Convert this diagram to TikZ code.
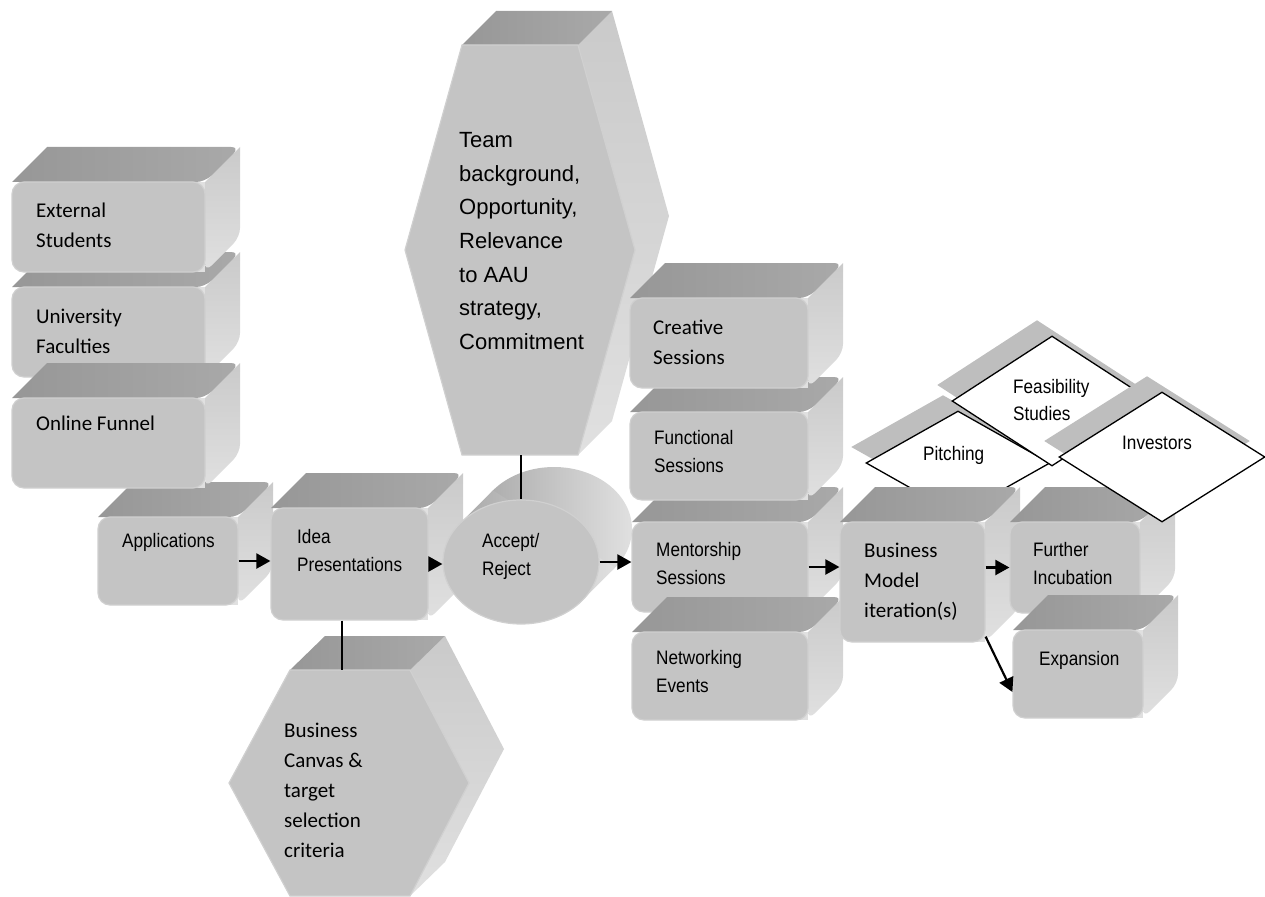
\documentclass[tikz,border=0pt]{standalone}
\usepackage{fontspec}
\setmainfont{Carlito}
\newfontfamily\arifont{Liberation Sans}[FakeStretch=0.88]
\newfontfamily\bigarifont{Liberation Sans}
\usetikzlibrary{arrows.meta,shapes.geometric,shadows}

\definecolor{frontc}{HTML}{C4C4C4}
\definecolor{edgec}{HTML}{D0D0D0}
\definecolor{topc}{HTML}{979797}
\definecolor{topl}{HTML}{A9A9A9}
\definecolor{sidec}{HTML}{E0E0E0}
\definecolor{sided}{HTML}{CACACA}
\definecolor{shadowc}{HTML}{BEBEBE}

\tikzset{
  frontbox/.style={draw=edgec, line width=1.2pt, fill=frontc, rounded corners=12pt, inner sep=0pt},
  topface/.style={left color=topc, right color=topl},
  sideface/.style={top color=sided, bottom color=sidec},
  cylside/.style={left color=topl, right color=sidec},
  calt/.style={font=\fontsize{21}{30}\selectfont, anchor=west, align=left, inner sep=0pt},
  arit/.style={font=\arifont\fontsize{19.5}{28}\selectfont, anchor=west, align=left, inner sep=0pt},
  bigt/.style={font=\bigarifont\fontsize{22}{33.7}\selectfont, anchor=west, align=left, inner sep=0pt},
  flow/.style={line width=2.2pt, -{Triangle[length=14pt,width=15pt]}},
  link/.style={line width=1.6pt},
  diam/.style={diamond, draw=black, line width=1.3pt, fill=white, inner sep=0pt,
    general shadow={fill=shadowc, shadow xshift=-15pt, shadow yshift=16pt}},
}

% extruded rounded box: name, left, top, right, bottom (front face)
\newcommand\solidbox[5]{%
  \fill[sidec] ({#4-14},{#3}) rectangle (#4,{#3+14});
  \fill[sidec] ({#4-14},{#5-14}) rectangle (#4,#5);
  \path[sideface] (#4,#3) -- ({#4+35},{#3-35}) [rounded corners=9pt] -- ({#4+35},{#5-35}) -- (#4,#5) [sharp corners] -- cycle;
  \path[topface] (#2,#3) -- ({#2+35},{#3-35}) [rounded corners=9pt] -- ({#4+35},{#3-35}) -- (#4,#3) [sharp corners] -- cycle;
  \node[frontbox, minimum width={(#4-#2)*1pt}, minimum height={(#5-#3)*1pt}] (#1) at ({(#2+#4)/2},{(#3+#5)/2}) {};
}

\begin{document}
\begin{tikzpicture}[x=1pt, y=-1pt]
\useasboundingbox (0,0) rectangle (1265,896);

% upper criteria hexagon
\path[sideface] (578,45) -- (612,11) -- (669,216) -- (612,421) -- (578,455) -- (635,250) -- cycle;
\path[topface] (462,45) -- (496,11) -- (612,11) -- (578,45) -- cycle;
\path[fill=frontc, draw=edgec, line width=1.2pt] (462,45) -- (578,45) -- (635,250) -- (578,455) -- (462,455) -- (405,250) -- cycle;
\coordinate (th-b) at (521,455);

% lower criteria hexagon
\path[sideface] (410,670) -- (445,636) -- (504,749) -- (445,862) -- (410,896) -- (469,783) -- cycle;
\path[topface] (290,670) -- (325,636) -- (445,636) -- (410,670) -- cycle;
\path[fill=frontc, draw=edgec, line width=1.2pt] (290,670) -- (410,670) -- (469,783) -- (410,896) -- (290,896) -- (229,783) -- cycle;
\coordinate (bh-t) at (342,670);

% sources and intake
\solidbox{app}{98}{517}{238}{605}
\solidbox{uf}{12}{287}{205}{377}
\solidbox{es}{12}{182}{205}{272}
\solidbox{of}{12}{398}{205}{488}
\solidbox{idea}{271}{508}{428}{620}

% decision cylinder
\path[cylside] (554,529) ellipse [x radius=78, y radius=62];
\path[cylside] (460,523.4) -- (493,490.4) -- (615,567.6) -- (582,600.6) -- cycle;
\node[ellipse, fill=frontc, draw=edgec, line width=1.2pt, minimum width=156pt, minimum height=124pt, inner sep=0pt] (acc) at (521,562) {};

% programme activities
\solidbox{ment}{632}{522}{808}{612}
\solidbox{func}{630}{412}{808}{500}
\solidbox{crea}{630}{298}{808}{388}
\solidbox{netw}{632}{632}{808}{720}

% outcomes
\node[diam, minimum width=184pt, minimum height=104pt] (pitch) at (958,463) {};
\solidbox{bm}{840}{522}{985}{642}
\solidbox{fi}{1010}{522}{1140}{613}
\solidbox{exp}{1013}{630}{1143}{718}
\node[diam, minimum width=200pt, minimum height=130pt] (feas) at (1052,401) {};
\node[diam, minimum width=206pt, minimum height=130pt] (inv) at (1162,457) {};

% labels
\node[bigt] (th-t) at (459,241) {Team\\background,\\Opportunity,\\Relevance\\to AAU\\strategy,\\Commitment};
\node[calt] (bh-txt) at (284,790) {Business\\Canvas \&\\target\\selection\\criteria};
\node[calt] (es-t) at (36,225) {External\\Students};
\node[calt] (uf-t) at (36,331) {University\\Faculties};
\node[calt] (of-t) at (36,423) {Online Funnel};
\node[arit] (app-t) at (122,542) {Applications};
\node[arit] (idea-t) at (297,551) {Idea\\Presentations};
\node[arit] (acc-t) at (482,556) {Accept/\\Reject};
\node[calt] (crea-t) at (653,342) {Creative\\Sessions};
\node[arit] (func-t) at (654,452) {Functional\\Sessions};
\node[arit] (ment-t) at (656,564) {Mentorship\\Sessions};
\node[arit] (netw-t) at (656,672) {Networking\\Events};
\node[calt] (bm-t) at (864,582) {Business\\Model\\iteration(s)};
\node[arit] (fi-t) at (1033,564) {Further\\Incubation};
\node[arit] (exp-t) at (1039,660) {Expansion};
\node[arit] (pitch-t) at (923,455) {Pitching};
\node[arit, font=\arifont\fontsize{19.5}{27}\selectfont] (feas-t) at (1013,400) {Feasibility\\Studies};
\node[arit] (inv-t) at (1122,443) {Investors};

% connectors
\draw[link] (th-b) -- (acc.north);
\draw[link] (idea.south -| bh-t) -- (bh-t);
\draw[flow] (app.east) -- (app.east -| idea.west);
\draw[flow] (idea.east) -- (idea.east -| acc.west);
\draw[flow] (acc.east) -- (acc.east -| ment.west);
\draw[flow] (ment.east) -- (ment.east -| bm.west);
\draw[flow] (fi.west -| bm.east) -- (fi.west);
\draw[flow] ([yshift=6pt]bm.south east) -- ([yshift=-18pt]exp.west);
\end{tikzpicture}
\end{document}
